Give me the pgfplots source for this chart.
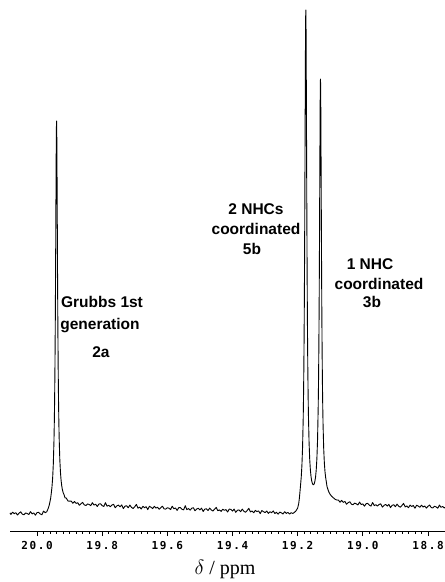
\documentclass[border=0pt]{standalone}
\usepackage{fontspec}
\setmainfont{Liberation Serif}
\newfontfamily\labfont{Liberation Sans}
\newfontfamily\tickfont{DejaVu Sans Mono}[LetterSpace=15]
\usepackage{pgfplots}
\pgfplotsset{compat=1.18}
\pgfplotstableread{
x y
20.083 18.1
20.080 16.6
20.075 18.8
20.070 17.3
20.065 18.3
20.060 16.0
20.055 17.8
20.050 19.2
20.045 16.8
20.040 16.3
20.035 18.0
20.030 17.5
20.025 16.5
20.020 19.4
20.015 17.1
20.010 18.1
20.005 15.8
20.000 18.4
19.995 18.7
19.990 17.0
19.985 16.2
19.980 19.9
19.975 18.3
19.970 19.2
19.966 22.3
19.963 25.2
19.960 29.6
19.958 33.0
19.956 38.3
19.954 44.3
19.952 53.0
19.950 66.6
19.948 89.3
19.947 106.4
19.946 129.0
19.945 160.2
19.944 202.4
19.943 257.8
19.942 323.1
19.941 382.5
19.9405 401.5
19.940 410.0
19.9395 403.3
19.939 384.5
19.938 325.5
19.937 260.4
19.936 204.8
19.935 162.9
19.934 132.0
19.933 109.9
19.932 93.1
19.930 71.4
19.928 58.7
19.926 50.4
19.924 44.9
19.922 41.3
19.920 38.6
19.917 36.3
19.914 33.2
19.910 32.9
19.905 30.0
19.900 29.8
19.895 29.9
19.890 27.7
19.885 29.5
19.880 27.6
19.875 28.3
19.870 25.7
19.865 27.3
19.860 28.6
19.855 26.1
19.850 25.5
19.845 27.1
19.840 26.5
19.835 25.4
19.830 28.3
19.825 25.9
19.820 26.8
19.815 24.5
19.810 27.0
19.805 27.2
19.800 25.4
19.795 24.5
19.790 28.3
19.785 24.8
19.780 25.7
19.775 24.3
19.770 26.0
19.765 26.7
19.760 23.2
19.755 25.1
19.750 25.9
19.745 24.2
19.740 26.1
19.735 22.4
19.730 24.8
19.725 25.3
19.720 23.2
19.715 25.9
19.710 23.6
19.705 22.5
19.700 24.3
19.695 26.6
19.690 22.8
19.685 23.9
19.680 22.0
19.675 24.7
19.670 23.3
19.665 24.3
19.660 21.4
19.655 24.7
19.650 23.7
19.645 22.4
19.640 24.7
19.635 22.9
19.630 23.8
19.625 21.7
19.620 23.4
19.615 24.8
19.610 22.1
19.605 21.9
19.600 23.3
19.595 22.8
19.590 21.4
19.585 24.8
19.580 22.2
19.575 23.0
19.570 20.6
19.565 23.3
19.560 23.4
19.555 21.7
19.550 21.1
19.545 25.3
19.540 21.4
19.535 22.4
19.530 20.8
19.525 22.8
19.520 23.3
19.515 20.2
19.510 22.0
19.505 22.7
19.500 21.1
19.495 22.9
19.490 19.5
19.485 21.9
19.480 22.2
19.475 20.5
19.470 22.9
19.465 21.0
19.460 20.0
19.455 21.8
19.450 23.6
19.445 20.3
19.440 21.1
19.435 19.6
19.430 21.8
19.425 20.7
19.420 21.4
19.415 19.0
19.410 21.9
19.405 21.6
19.400 19.9
19.395 21.9
19.390 18.6
19.385 20.7
19.380 21.1
19.375 19.3
19.370 21.9
19.365 19.7
19.360 18.8
19.355 20.5
19.350 22.7
19.345 19.1
19.340 20.0
19.335 18.2
19.330 20.6
19.325 19.4
19.320 20.1
19.315 17.4
19.310 20.4
19.305 19.4
19.300 18.4
19.295 20.0
19.290 17.6
19.285 19.2
19.280 18.3
19.275 20.1
19.270 17.5
19.265 18.7
19.260 16.8
19.255 18.9
19.250 18.2
19.245 17.0
19.240 19.3
19.235 17.6
19.230 18.6
19.225 16.9
19.220 18.3
19.215 17.5
19.210 18.6
19.206 19.8
19.203 21.2
19.200 23.0
19.197 27.0
19.195 32.0
19.193 39.0
19.191 46.3
19.189 54.0
19.187 65.3
19.185 83.0
19.183 112.1
19.182 134.2
19.181 163.3
19.180 203.4
19.179 257.5
19.178 328.6
19.177 412.2
19.176 488.3
19.1755 512.4
19.175 521.0
19.1745 513.1
19.174 489.7
19.173 413.9
19.172 331.0
19.171 260.2
19.170 206.9
19.169 167.1
19.168 138.3
19.167 116.5
19.165 88.6
19.163 71.7
19.161 61.2
19.159 54.5
19.157 50.2
19.155 47.6
19.153 46.4
19.151 46.3
19.149 47.3
19.147 50.0
19.145 54.2
19.143 61.2
19.141 72.3
19.139 90.5
19.137 123.0
19.136 147.6
19.135 181.6
19.134 227.8
19.133 288.1
19.132 359.4
19.131 424.2
19.1305 444.8
19.130 452.0
19.1295 445.0
19.129 424.5
19.128 360.0
19.127 289.0
19.126 228.0
19.125 182.0
19.124 148.3
19.123 124.0
19.122 105.6
19.120 81.6
19.118 67.5
19.116 58.9
19.114 53.3
19.112 49.1
19.110 44.6
19.107 41.4
19.104 38.8
19.100 36.5
19.095 34.5
19.090 33.1
19.085 31.7
19.080 31.0
19.075 30.9
19.070 28.8
19.065 30.6
19.060 28.6
19.055 29.6
19.050 26.7
19.045 28.3
19.040 29.3
19.035 26.8
19.030 26.2
19.025 27.9
19.020 27.1
19.015 26.1
19.010 28.9
19.005 26.5
19.000 27.1
18.995 24.8
18.990 27.3
18.985 27.6
18.980 25.8
18.975 24.9
18.970 28.5
18.965 25.4
18.960 26.3
18.955 24.9
18.950 26.5
18.945 27.2
18.940 23.9
18.935 25.6
18.930 26.6
18.925 24.9
18.920 26.7
18.915 23.4
18.910 25.7
18.905 26.2
18.900 24.3
18.895 26.9
18.890 24.8
18.885 23.8
18.880 25.5
18.875 27.6
18.870 24.1
18.865 25.1
18.860 23.3
18.855 25.9
18.850 24.5
18.845 25.5
18.840 22.7
18.835 25.8
18.830 24.9
18.825 23.7
18.820 25.8
18.815 24.0
18.810 25.0
18.805 22.9
18.800 24.7
18.795 26.0
18.790 23.4
18.785 23.1
18.780 24.7
18.775 24.1
18.770 22.8
18.765 25.9
18.760 23.7
18.755 24.5
18.750 23.0
18.748 23.6
}\spectrum
\begin{document}
\begin{tikzpicture}
\useasboundingbox (-10bp,-51bp) rectangle (435bp,531bp);
\begin{axis}[
  at={(0,0)}, anchor=south west,
  scale only axis, width=435bp, height=531bp,
  xmin=18.7478, xmax=20.0829, x dir=reverse,
  ymin=0, ymax=531,
  axis x line*=bottom, hide y axis,
  axis line style={line width=0.8bp},
  xtick={18.8,19.0,19.2,19.4,19.6,19.8,20.0},
  xticklabels={18.8,19.0,19.2,19.4,19.6,19.8,20.0},
  minor x tick num=9,
  tick align=outside,
  major tick length=5bp, minor tick length=2.5bp,
  every tick/.style={black, line width=0.7bp},
  xticklabel style={font=\tickfont\bfseries\fontsize{11bp}{11bp}\selectfont, yshift=-2bp},
  clip=false,
]
\addplot[black, line width=0.9bp, line join=round, mark=none] table[x=x,y=y] {\spectrum};
\end{axis}
\begin{scope}[every node/.style={font=\labfont\bfseries\fontsize{15.5bp}{18bp}\selectfont, inner sep=0pt, anchor=base}]
\node at (92bp,223bp) {Grubbs 1st};
\node at (90bp,201bp) {generation};
\node at (91bp,173bp) {2a};
\node at (246bp,316bp) {2 NHCs};
\node at (246bp,296bp) {coordinated};
\node at (242bp,276bp) {5b};
\node at (360bp,261bp) {1 NHC};
\node at (369bp,241bp) {coordinated};
\node at (362bp,223bp) {3b};
\end{scope}
\node[anchor=base, inner sep=0pt, font=\fontsize{20bp}{20bp}\selectfont] at (215bp,-43bp) {$\delta$ / ppm};
\end{tikzpicture}
\end{document}
